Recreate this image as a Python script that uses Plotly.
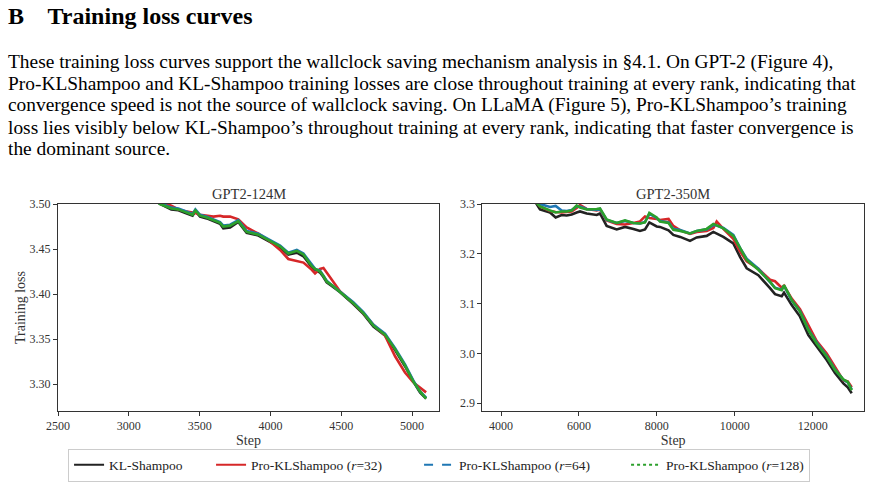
import plotly.graph_objects as go

W, H = 879, 484

# ---------------- data ----------------
steps_124 = [3150, 3220, 3300, 3350, 3400, 3450, 3470, 3503, 3550, 3597, 3644, 3667, 3715, 3773,
             3832, 3915, 3985, 4068, 4126, 4186, 4233, 4292, 4315, 4350, 4374, 4397, 4433, 4492,
             4585, 4656, 4727, 4809, 4880, 4950, 5009, 5056, 5099]
kl_124 = [3.508, 3.500, 3.494, 3.493, 3.490, 3.487, 3.492, 3.486, 3.484, 3.481, 3.478, 3.473, 3.474, 3.480,
          3.468, 3.465, 3.459, 3.452, 3.444, 3.446, 3.442, 3.430, 3.427, 3.424, 3.419, 3.413, 3.409, 3.402,
          3.389, 3.378, 3.364, 3.354, 3.338, 3.320, 3.303, 3.291, 3.284]
r32_124 = [3.510, 3.503, 3.498, 3.494, 3.492, 3.491, 3.490, 3.488, 3.487, 3.486, 3.487, 3.486, 3.486, 3.483,
           3.474, 3.467, 3.460, 3.449, 3.439, 3.437, 3.435, 3.427, 3.423, 3.428, 3.429, 3.424, 3.416, 3.403,
           3.390, 3.379, 3.366, 3.354, 3.331, 3.313, 3.302, 3.296, 3.291]
r64_124 = [3.509, 3.501, 3.496, 3.495, 3.492, 3.489, 3.494, 3.488, 3.486, 3.483, 3.480, 3.476, 3.477, 3.482,
           3.470, 3.467, 3.461, 3.454, 3.446, 3.449, 3.445, 3.432, 3.428, 3.426, 3.420, 3.415, 3.410, 3.403,
           3.391, 3.380, 3.366, 3.356, 3.340, 3.322, 3.304, 3.292, 3.285]
r128_124 = [3.508, 3.500, 3.495, 3.494, 3.491, 3.488, 3.493, 3.487, 3.485, 3.482, 3.479, 3.475, 3.476, 3.481,
            3.469, 3.466, 3.460, 3.453, 3.445, 3.448, 3.444, 3.431, 3.428, 3.425, 3.420, 3.414, 3.410, 3.402,
            3.390, 3.379, 3.365, 3.355, 3.339, 3.321, 3.303, 3.292, 3.284]

steps_350 = [4800, 4915, 5001, 5258, 5403, 5557, 5685, 5814, 5942, 6028, 6199, 6456, 6541, 6712, 6969,
             7183, 7400, 7568, 7696, 7807, 7996, 8081, 8300, 8423, 8600, 8851, 9023, 9280, 9450, 9536,
             9707, 9963, 10135, 10306, 10605, 10905, 11033, 11205, 11264, 11462, 11675, 11889, 12103,
             12360, 12573, 12787, 12900, 13002]
kl_350 = [3.310, 3.300, 3.289, 3.283, 3.273, 3.278, 3.277, 3.279, 3.283, 3.285, 3.281, 3.278, 3.281, 3.256, 3.249,
          3.254, 3.250, 3.246, 3.249, 3.263, 3.255, 3.254, 3.247, 3.238, 3.234, 3.226, 3.233, 3.236, 3.244, 3.241,
          3.234, 3.221, 3.194, 3.171, 3.157, 3.131, 3.119, 3.115, 3.122, 3.097, 3.074, 3.037, 3.014,
          2.987, 2.961, 2.940, 2.932, 2.920]
r32_350 = [3.312, 3.304, 3.295, 3.286, 3.284, 3.283, 3.284, 3.285, 3.292, 3.298, 3.290, 3.287, 3.289, 3.267, 3.260,
           3.259, 3.262, 3.265, 3.275, 3.272, 3.270, 3.268, 3.270, 3.256, 3.247, 3.240, 3.244, 3.246, 3.252, 3.265,
           3.250, 3.230, 3.205, 3.185, 3.170, 3.148, 3.145, 3.132, 3.136, 3.110, 3.089, 3.058, 3.025,
           3.000, 2.972, 2.946, 2.944, 2.932]
r64_350 = [3.314, 3.306, 3.300, 3.294, 3.296, 3.287, 3.286, 3.288, 3.295, 3.295, 3.290, 3.288, 3.290, 3.268, 3.262,
           3.266, 3.262, 3.261, 3.264, 3.280, 3.272, 3.266, 3.263, 3.250, 3.248, 3.241, 3.246, 3.249, 3.258, 3.257,
           3.252, 3.238, 3.212, 3.190, 3.170, 3.143, 3.132, 3.128, 3.136, 3.106, 3.085, 3.048, 3.022,
           2.995, 2.968, 2.947, 2.942, 2.928]
r128_350 = [3.312, 3.303, 3.295, 3.287, 3.283, 3.285, 3.285, 3.287, 3.297, 3.293, 3.289, 3.290, 3.291, 3.269, 3.262,
            3.267, 3.262, 3.261, 3.263, 3.282, 3.273, 3.265, 3.262, 3.248, 3.246, 3.241, 3.246, 3.250, 3.260, 3.257,
            3.251, 3.236, 3.211, 3.188, 3.168, 3.144, 3.131, 3.127, 3.137, 3.107, 3.084, 3.047, 3.020,
            2.994, 2.967, 2.948, 2.943, 2.926]

series_names = ["KL-Shampoo", "Pro-KLShampoo (<i>r</i>=32)", "Pro-KLShampoo (<i>r</i>=64)",
                "Pro-KLShampoo (<i>r</i>=128)"]
series_colors = ["#222222", "#d62728", "#1f77b4", "#2ca02c"]
series_dash = ["solid", "solid", "dash", "dot"]

panel_titles = ["GPT2-124M", "GPT2-350M"]
ticks_x_124 = [2500, 3000, 3500, 4000, 4500, 5000]
ticks_y_124 = [3.30, 3.35, 3.40, 3.45, 3.50]
ticks_x_350 = [4000, 6000, 8000, 10000, 12000]
ticks_y_350 = [2.9, 3.0, 3.1, 3.2, 3.3]

heading = "<b>B    Training loss curves</b>"
paragraph = [
    "These training loss curves support the wallclock saving mechanism analysis in §4.1. On GPT-2 (Figure 4),",
    "Pro-KLShampoo and KL-Shampoo training losses are close throughout training at every rank, indicating that",
    "convergence speed is not the source of wallclock saving. On LLaMA (Figure 5), Pro-KLShampoo’s training",
    "loss lies visibly below KL-Shampoo’s throughout training at every rank, indicating that faster convergence is",
    "the dominant source.",
]

# ---------------- figure ----------------
SERIF = "Liberation Serif, Times New Roman, serif"
fig = go.Figure()

def px_x(p):
    return p / W

def px_y(p):
    return 1 - p / H

panel_data = [
    (steps_124, [kl_124, r32_124, r64_124, r128_124], "x", "y"),
    (steps_350, [kl_350, r32_350, r64_350, r128_350], "x2", "y2"),
]
for xs, ys_list, xa, ya in panel_data:
    for ys, c in zip(ys_list, series_colors):
        fig.add_trace(go.Scatter(x=xs, y=ys, mode="lines", xaxis=xa, yaxis=ya,
                                 line=dict(color=c, width=2.6), showlegend=False,
                                 hoverinfo="skip"))

legend_widths = [97, 163, 162, None]
for name, c, d, lw in zip(series_names, series_colors, series_dash, legend_widths):
    kw = {}
    if lw:
        kw["legendwidth"] = lw
    fig.add_trace(go.Scatter(x=[None], y=[None], mode="lines", name=name, xaxis="x", yaxis="y",
                             line=dict(color=c, width=2, dash=d), showlegend=True, **kw))

axis_common = dict(showgrid=False, zeroline=False, showline=True, linecolor="#333333", linewidth=1,
                   mirror=True, ticks="outside", ticklen=4, tickwidth=1, tickcolor="#333333",
                   automargin=False,
                   tickfont=dict(family=SERIF, size=12, color="#333333"))

y_top, y_bot = 204, 411
fig.update_layout(
    width=W, height=H, margin=dict(l=0, r=0, t=0, b=0, autoexpand=False),
    paper_bgcolor="white", plot_bgcolor="white",
    xaxis=dict(domain=[px_x(58), px_x(439)], range=[2500, 5190], tickvals=ticks_x_124,
               tickformat="d",
               title=dict(text="Step", font=dict(family=SERIF, size=14, color="#333333"), standoff=1),
               anchor="y", **axis_common),
    yaxis=dict(domain=[px_y(y_bot), px_y(y_top)], range=[3.2703, 3.50], tickvals=ticks_y_124,
               tickformat=".2f",
               title=dict(text="Training loss", font=dict(family=SERIF, size=14, color="#333333"), standoff=0),
               anchor="x", **axis_common),
    xaxis2=dict(domain=[px_x(482.3), px_x(864)], range=[3520, 13317], tickvals=ticks_x_350,
                tickformat="d",
                title=dict(text="Step", font=dict(family=SERIF, size=14, color="#333333"), standoff=1),
                anchor="y2", **axis_common),
    yaxis2=dict(domain=[px_y(y_bot), px_y(y_top)], range=[2.8845, 3.30], tickvals=ticks_y_350,
                tickformat=".1f", anchor="x2", **axis_common),
    legend=dict(orientation="h", x=0.4995, xanchor="center", y=px_y(465), yanchor="middle",
                bordercolor="#cccccc", borderwidth=1, bgcolor="white",
                font=dict(family=SERIF, size=13.5, color="#222222"), itemwidth=30,
                tracegroupgap=0),
)

ann = []
ann.append(dict(text=heading, x=px_x(6), y=px_y(16), xref="paper", yref="paper", xanchor="left",
                yanchor="middle", showarrow=False, font=dict(family=SERIF, size=24, color="black")))
for i, line in enumerate(paragraph):
    yc = 62.5 + 21.5 * i
    ann.append(dict(text=line, x=px_x(6), y=px_y(yc), xref="paper", yref="paper", xanchor="left",
                    yanchor="middle", showarrow=False, font=dict(family=SERIF, size=19.4, color="black")))
for t, xc in zip(panel_titles, [(58 + 439) / 2, (482.3 + 864) / 2]):
    ann.append(dict(text=t, x=px_x(xc), y=px_y(194), xref="paper", yref="paper", xanchor="center",
                    yanchor="middle", showarrow=False, font=dict(family=SERIF, size=14.5, color="#333333")))
fig.update_layout(annotations=ann)

fig.write_html("out.html")
